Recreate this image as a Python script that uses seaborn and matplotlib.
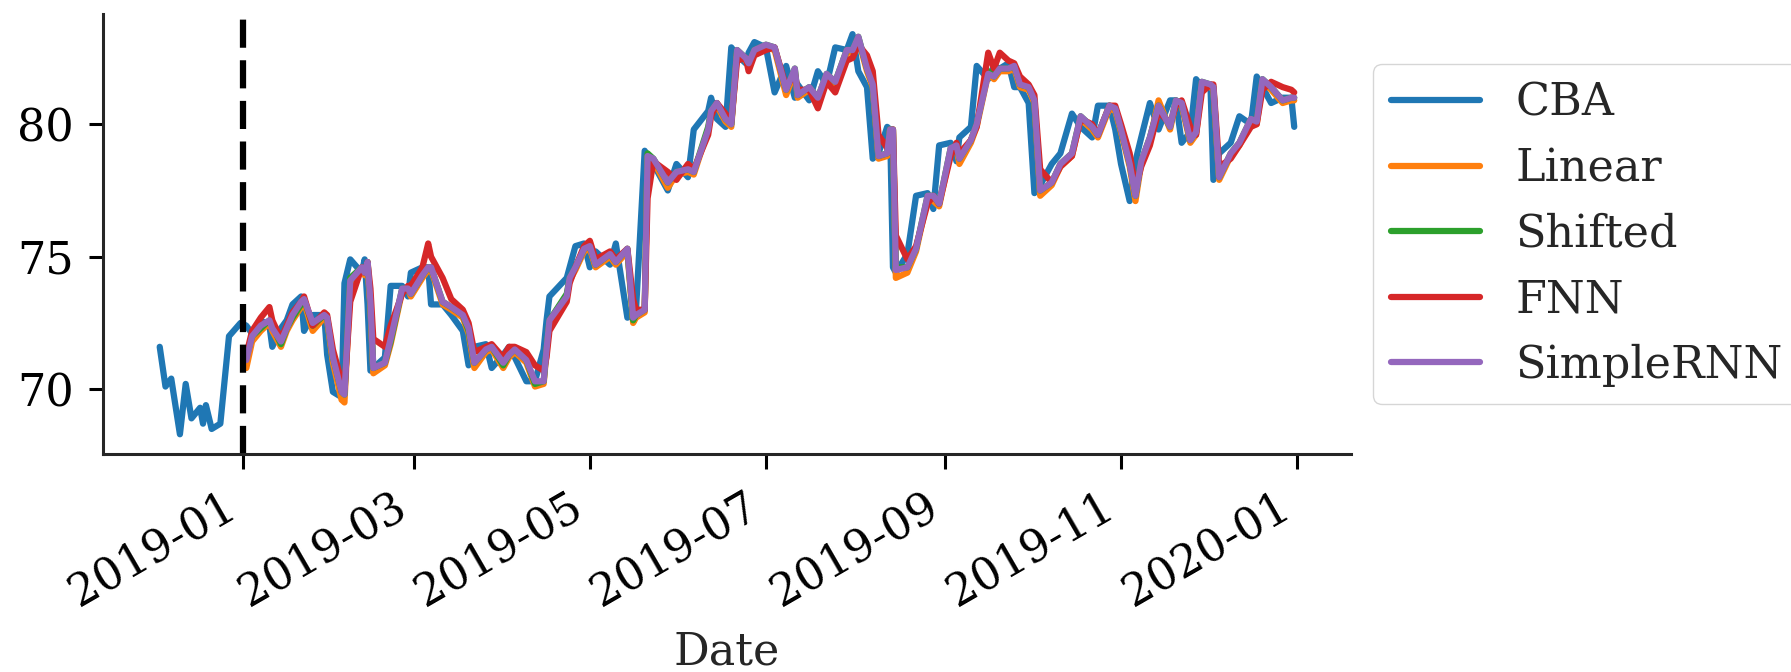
import matplotlib
matplotlib.use("Agg")
import matplotlib.pyplot as plt
import matplotlib.dates as mdates
import numpy as np
import pandas as pd
import seaborn as sns

# ---------------- data ----------------
hist_dates = ["2018-12-03", "2018-12-05", "2018-12-07", "2018-12-10", "2018-12-12",
              "2018-12-14", "2018-12-17", "2018-12-18", "2018-12-19", "2018-12-21",
              "2018-12-24", "2018-12-27", "2018-12-31"]
hist_cba = [71.6, 70.1, 70.4, 68.3, 70.2, 68.9, 69.3, 68.7, 69.4, 68.5, 68.7, 72.0, 72.5]

test_dates = [
    "2019-01-02", "2019-01-04", "2019-01-07", "2019-01-10", "2019-01-11", "2019-01-14",
    "2019-01-16", "2019-01-18", "2019-01-21", "2019-01-22", "2019-01-25", "2019-01-29",
    "2019-01-30", "2019-02-01", "2019-02-04", "2019-02-05", "2019-02-07", "2019-02-11",
    "2019-02-12", "2019-02-13", "2019-02-14", "2019-02-15", "2019-02-19", "2019-02-21",
    "2019-02-25", "2019-02-27", "2019-02-28", "2019-03-04", "2019-03-06", "2019-03-07",
    "2019-03-11", "2019-03-14", "2019-03-18", "2019-03-20", "2019-03-22", "2019-03-26",
    "2019-03-28", "2019-04-01", "2019-04-03", "2019-04-05", "2019-04-09", "2019-04-12",
    "2019-04-15", "2019-04-16", "2019-04-17", "2019-04-23", "2019-04-24", "2019-04-26",
    "2019-04-29", "2019-05-01", "2019-05-03", "2019-05-08", "2019-05-10", "2019-05-14",
    "2019-05-16", "2019-05-17", "2019-05-20", "2019-05-21", "2019-05-23", "2019-05-28",
    "2019-05-31", "2019-06-04", "2019-06-06", "2019-06-11", "2019-06-12", "2019-06-14",
    "2019-06-17", "2019-06-19", "2019-06-21", "2019-06-24", "2019-06-25", "2019-06-27",
    "2019-07-01", "2019-07-04", "2019-07-08", "2019-07-11", "2019-07-12", "2019-07-16",
    "2019-07-19", "2019-07-22", "2019-07-25", "2019-07-29", "2019-07-31", "2019-08-02",
    "2019-08-05", "2019-08-07", "2019-08-09", "2019-08-12", "2019-08-13", "2019-08-14",
    "2019-08-15", "2019-08-19", "2019-08-22", "2019-08-26", "2019-08-28", "2019-08-30",
    "2019-09-03", "2019-09-05", "2019-09-06", "2019-09-10", "2019-09-12", "2019-09-16",
    "2019-09-18", "2019-09-20", "2019-09-23", "2019-09-25", "2019-09-27", "2019-09-30",
    "2019-10-02", "2019-10-04", "2019-10-08", "2019-10-11", "2019-10-15", "2019-10-18",
    "2019-10-22", "2019-10-24", "2019-10-28", "2019-10-30", "2019-11-01", "2019-11-04",
    "2019-11-06", "2019-11-08", "2019-11-11", "2019-11-14", "2019-11-18", "2019-11-20",
    "2019-11-22", "2019-11-25", "2019-11-27", "2019-11-29", "2019-12-02", "2019-12-03",
    "2019-12-05", "2019-12-09", "2019-12-12", "2019-12-16", "2019-12-18", "2019-12-20",
    "2019-12-23", "2019-12-27", "2019-12-30", "2019-12-31"]

test_cba = [
    72.4, 72.1, 72.6, 72.4, 71.6, 72.3, 72.6, 73.2, 73.5, 72.2, 72.8, 72.8,
    71.3, 69.9, 69.7, 74.0, 74.9, 74.4, 74.9, 73.2, 70.7, 70.8, 71.2, 73.9,
    73.9, 73.5, 74.4, 74.6, 74.6, 73.2, 73.2, 72.8, 72.2, 70.9, 71.6, 71.7,
    70.8, 71.3, 71.6, 71.2, 70.3, 70.3, 71.5, 72.6, 73.5, 74.2, 74.6, 75.4,
    75.5, 74.6, 75.2, 74.7, 75.5, 72.7, 72.8, 73.0, 79.0, 78.8, 78.5, 77.5,
    78.5, 78.0, 79.8, 80.5, 81.0, 80.2, 79.9, 82.9, 82.6, 82.3, 82.7, 83.1,
    82.9, 81.2, 82.2, 81.0, 81.5, 80.9, 82.0, 81.5, 82.9, 82.8, 83.4, 82.0,
    81.4, 78.7, 78.9, 79.9, 79.8, 74.6, 74.4, 75.1, 77.3, 77.4, 76.8, 79.2,
    79.3, 78.6, 79.5, 79.9, 82.2, 81.7, 82.2, 82.1, 82.3, 81.4, 81.4, 80.8,
    77.4, 77.7, 78.5, 78.9, 80.4, 79.9, 79.5, 80.7, 80.7, 79.8, 78.5, 77.1,
    78.6, 79.5, 80.8, 79.8, 80.9, 80.9, 79.3, 79.7, 81.7, 81.4, 81.4, 77.9,
    78.9, 79.3, 80.3, 80.0, 81.8, 81.4, 80.8, 81.0, 81.0, 79.9]

linear = [
    70.8, 71.8, 72.2, 72.5, 72.2, 71.6, 72.2, 72.6, 73.1, 73.3, 72.2, 72.7,
    72.6, 71.0, 69.6, 69.5, 73.9, 74.5, 74.3, 74.6, 73.1, 70.6, 70.9, 71.7,
    73.7, 73.8, 73.5, 74.2, 74.5, 74.5, 73.2, 73.0, 72.7, 72.1, 70.8, 71.4,
    71.5, 70.8, 71.2, 71.4, 71.0, 70.1, 70.2, 71.4, 72.5, 73.5, 74.1, 74.5,
    75.2, 75.3, 74.6, 75.0, 74.7, 75.2, 72.5, 72.7, 72.9, 78.8, 78.6, 77.6,
    78.1, 78.2, 78.1, 79.8, 80.4, 80.7, 80.1, 79.9, 82.7, 82.4, 82.2, 82.7,
    82.9, 82.8, 81.1, 82.0, 81.0, 81.3, 80.9, 81.8, 81.5, 82.7, 82.7, 83.2,
    82.0, 81.4, 78.7, 78.8, 79.8, 79.8, 74.2, 74.4, 75.2, 77.2, 77.1, 76.9,
    79.0, 79.1, 78.5, 79.3, 79.9, 81.9, 81.7, 82.0, 82.0, 82.1, 81.4, 81.3,
    80.8, 77.3, 77.7, 78.4, 78.8, 80.2, 79.8, 79.5, 80.6, 80.5, 79.7, 78.4,
    77.1, 78.5, 79.4, 80.9, 79.8, 80.8, 80.7, 79.3, 79.6, 81.5, 81.4, 81.3,
    77.9, 78.8, 79.2, 80.1, 80.0, 81.6, 81.3, 80.8, 80.9, 80.9]

shifted = [
    71.2, 72.0, 72.3, 72.6, 72.4, 71.7, 72.3, 72.7, 73.2, 73.4, 72.4, 72.8,
    72.7, 71.2, 69.9, 69.8, 74.2, 74.6, 74.4, 74.8, 73.3, 70.8, 71.0, 71.8,
    73.8, 73.8, 73.6, 74.3, 74.6, 74.6, 73.3, 73.1, 72.8, 72.2, 71.0, 71.5,
    71.6, 70.9, 71.3, 71.5, 71.1, 70.2, 70.3, 71.5, 72.6, 73.6, 74.2, 74.6,
    75.3, 75.4, 74.7, 75.1, 74.8, 75.3, 72.6, 72.8, 73.0, 78.9, 78.7, 77.8,
    78.2, 78.3, 78.2, 79.9, 80.5, 80.8, 80.2, 80.0, 82.8, 82.5, 82.3, 82.8,
    83.0, 82.9, 81.3, 82.1, 81.1, 81.4, 81.0, 81.9, 81.6, 82.8, 82.8, 83.3,
    82.1, 81.5, 78.8, 78.9, 79.8, 79.8, 74.6, 74.6, 75.3, 77.3, 77.3, 77.0,
    79.1, 79.2, 78.7, 79.4, 80.0, 82.0, 81.8, 82.1, 82.1, 82.2, 81.5, 81.4,
    80.9, 77.5, 77.8, 78.5, 78.9, 80.3, 79.9, 79.6, 80.7, 80.6, 79.8, 78.5,
    77.3, 78.6, 79.5, 80.7, 79.9, 80.9, 80.8, 79.4, 79.7, 81.6, 81.5, 81.4,
    78.0, 78.9, 79.3, 80.2, 80.1, 81.7, 81.4, 80.9, 81.0, 81.0]

fnn = [
    71.3, 72.2, 72.7, 73.1, 72.6, 71.9, 72.4, 72.9, 73.3, 73.5, 72.4, 72.9,
    72.8, 71.5, 70.3, 70.0, 73.3, 74.6, 74.4, 74.8, 73.8, 71.9, 71.6, 72.4,
    73.6, 73.9, 73.9, 74.6, 75.5, 75.0, 74.2, 73.4, 73.0, 72.5, 71.4, 71.6,
    71.7, 71.2, 71.6, 71.6, 71.4, 70.9, 70.7, 71.2, 72.2, 73.3, 74.0, 74.6,
    75.4, 75.6, 74.9, 75.2, 74.9, 75.3, 73.4, 73.0, 73.0, 77.2, 78.6, 78.2,
    77.9, 78.5, 78.3, 79.6, 80.3, 80.8, 80.4, 80.1, 82.4, 82.5, 82.0, 82.6,
    82.8, 82.9, 81.4, 81.9, 81.3, 81.3, 80.6, 81.6, 81.2, 82.4, 82.5, 83.0,
    82.6, 82.0, 79.6, 79.1, 79.6, 79.8, 75.8, 74.9, 75.4, 77.0, 77.3, 77.0,
    78.8, 79.3, 78.9, 79.4, 79.9, 82.7, 82.1, 82.7, 82.4, 82.3, 81.8, 81.5,
    81.1, 78.3, 77.8, 78.4, 78.8, 80.2, 80.0, 79.6, 80.7, 80.7, 80.0, 78.9,
    77.6, 78.4, 79.2, 80.5, 80.0, 80.7, 80.9, 79.9, 79.6, 81.2, 81.5, 81.5,
    78.4, 78.7, 79.2, 79.9, 80.0, 81.3, 81.6, 81.4, 81.3, 81.2]

simple_rnn = [
    71.1, 72.0, 72.4, 72.6, 72.3, 71.8, 72.3, 72.8, 73.3, 73.4, 72.5, 72.8,
    72.7, 71.2, 69.9, 69.8, 74.1, 74.6, 74.4, 74.8, 73.3, 70.8, 71.0, 71.9,
    73.8, 73.8, 73.6, 74.3, 74.6, 74.6, 73.3, 73.1, 72.8, 72.3, 71.0, 71.5,
    71.6, 71.0, 71.3, 71.5, 71.1, 70.3, 70.3, 71.5, 72.6, 73.5, 74.2, 74.6,
    75.3, 75.4, 74.7, 75.1, 74.8, 75.3, 72.7, 72.8, 73.0, 78.8, 78.7, 77.8,
    78.2, 78.3, 78.2, 79.8, 80.5, 80.8, 80.2, 80.0, 82.8, 82.5, 82.3, 82.8,
    83.0, 82.9, 81.3, 82.1, 81.1, 81.4, 81.0, 81.9, 81.6, 82.8, 82.8, 83.3,
    82.1, 81.5, 78.8, 78.9, 79.8, 79.8, 74.5, 74.6, 75.3, 77.3, 77.3, 77.0,
    79.1, 79.2, 78.7, 79.4, 80.0, 81.9, 81.8, 82.1, 82.1, 82.2, 81.5, 81.4,
    80.9, 77.5, 77.8, 78.5, 78.9, 80.3, 79.9, 79.6, 80.7, 80.6, 79.8, 78.5,
    77.3, 78.6, 79.5, 80.7, 79.9, 80.9, 80.8, 79.4, 79.7, 81.6, 81.5, 81.4,
    78.0, 78.9, 79.3, 80.2, 80.1, 81.7, 81.4, 80.9, 81.0, 81.0]

series_names = ["CBA", "Linear", "Shifted", "FNN", "SimpleRNN"]
split_date = "2019-01-01"

# ---------------- build long table ----------------
frames = [pd.DataFrame({"Date": pd.to_datetime(hist_dates + test_dates),
                        "Price": hist_cba + test_cba, "Series": "CBA"})]
for name, vals in zip(series_names[1:], [linear, shifted, fnn, simple_rnn]):
    frames.append(pd.DataFrame({"Date": pd.to_datetime(test_dates),
                                "Price": vals, "Series": name}))
df = pd.concat(frames, ignore_index=True)

# ---------------- style ----------------
sns.set_theme(style="ticks")
plt.rcParams["font.family"] = ["DejaVu Serif"]
plt.rcParams["axes.linewidth"] = 2.2
plt.rcParams["xtick.major.width"] = 2.2
plt.rcParams["ytick.major.width"] = 2.2
plt.rcParams["xtick.major.size"] = 11
plt.rcParams["ytick.major.size"] = 10
plt.rcParams["xtick.major.pad"] = 11
plt.rcParams["ytick.major.pad"] = 11

fig = plt.figure(figsize=(17.91, 6.72), dpi=100)
ax = fig.add_axes([0.0575, 0.324, 0.6968, 0.655])

palette = dict(zip(series_names, sns.color_palette("tab10", 5)))
sns.lineplot(data=df, x="Date", y="Price", hue="Series", hue_order=series_names,
             palette=palette, linewidth=4.5, ax=ax, estimator=None, sort=True)

ax.axvline(pd.Timestamp(split_date), color="black", linestyle="--", linewidth=4.5,
           dashes=(4.5, 2.0))

ax.xaxis.set_major_locator(mdates.MonthLocator(bymonth=[1, 3, 5, 7, 9, 11]))
ax.xaxis.set_major_formatter(mdates.DateFormatter("%Y-%m"))
ax.set_yticks([70, 75, 80])
ax.tick_params(axis="both", labelsize=32, colors="black")
for lbl in ax.get_xticklabels():
    lbl.set_rotation(30)
    lbl.set_ha("right")

ax.set_xlabel("Date", fontsize=32, labelpad=11)
ax.set_ylabel("")
sns.despine(ax=ax)

leg = ax.legend(loc="center left", bbox_to_anchor=(1.0, 0.5), fontsize=32,
                frameon=True, handlelength=2.0, labelspacing=0.5)
for line in leg.get_lines():
    line.set_linewidth(4.5)

fig.savefig("out.png", dpi=100)
